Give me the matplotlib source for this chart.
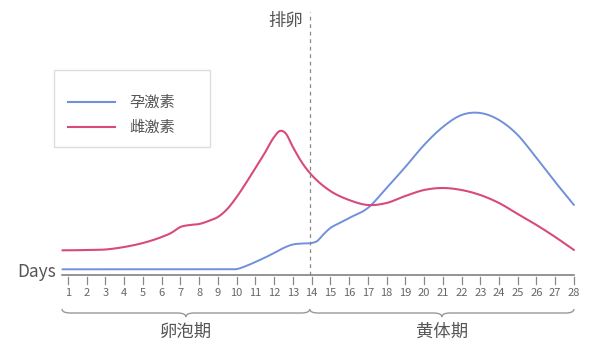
import numpy as np
import matplotlib.pyplot as plt
from matplotlib.path import Path
from matplotlib.patches import PathPatch, Rectangle

plt.rcParams['font.family'] = ['Noto Sans CJK SC', 'DejaVu Sans']

# hormone levels (arbitrary units)
days_prog = [0.7, 2, 4, 6, 8, 9.5, 10, 10.5, 11, 12, 12.5, 13, 13.5, 14, 14.3, 14.6, 15,
             15.5, 16, 17, 18, 19, 20, 21, 22, 23, 24, 25, 26, 27, 28]
prog = [5.7, 5.7, 5.7, 5.7, 5.7, 5.7, 5.9, 9, 13, 22, 27, 30.5, 31.5, 32, 34, 40, 47,
        52, 57, 67, 87, 108, 130, 148, 160, 162, 155, 140, 117, 93, 70]

days_estr = [0.7, 1, 2, 3, 4, 5, 6, 6.5, 7, 7.5, 8, 8.5, 9, 9.5, 10, 10.5, 11, 11.5,
             12, 12.3, 12.6, 13, 13.5, 14, 14.5, 15, 16, 17, 18, 19, 20, 21, 22,
             23, 24, 25, 26, 27, 28]
estr = [24.7, 24.7, 25, 25.5, 28, 32, 38, 42, 48, 50, 51, 54, 58, 66, 78, 92, 107, 122,
        138, 144, 142, 128, 112, 100, 91, 84, 75, 70, 72, 79, 85, 87, 85,
        80, 72, 61, 50, 38, 25]

tick_days = list(range(1, 29))
ovulation = 13.9
phases = [('卵泡期', 0.68, ovulation), ('黄体期', ovulation, 28)]
labels = ['孕激素', '雌激素']
colors = ['#7090dc', '#d84a7e']
grey = '#666666'


def smooth(x, y, n=12):
    # cubic hermite curve through the read points, only for drawing
    x = np.asarray(x, float)
    y = np.asarray(y, float)
    m = np.gradient(y, x)
    xs, ys = [], []
    t = np.linspace(0, 1, n, endpoint=False)
    for i in range(len(x) - 1):
        h = x[i + 1] - x[i]
        h00 = 2 * t**3 - 3 * t**2 + 1
        h10 = t**3 - 2 * t**2 + t
        h01 = -2 * t**3 + 3 * t**2
        h11 = t**3 - t**2
        xs.extend(x[i] + h * t)
        ys.extend(h00 * y[i] + h10 * h * m[i] + h01 * y[i + 1] + h11 * h * m[i + 1])
    xs.append(x[-1])
    ys.append(y[-1])
    return xs, ys


fig = plt.figure(figsize=(6, 3.51), dpi=100)
ax = fig.add_axes([0, 0, 1, 1])
ax.set_xlim(-2.628, 29.389)
ax.set_ylim(-76, 275)
ax.axis('off')

ax.plot(*smooth(days_prog, prog), color=colors[0], lw=1.4, solid_capstyle='round')
ax.plot(*smooth(days_estr, estr), color=colors[1], lw=1.5, solid_capstyle='round')

# x axis
ax.plot([0.68, 28], [0, 0], color='#777777', lw=1.1)
for d in tick_days:
    ax.plot([d, d], [-2, -9], color='#888888', lw=0.9)
    ax.text(d, -18, str(d), ha='center', va='center', fontsize=8, color=grey)
ax.text(0.35, 3, 'Days', ha='right', va='center', fontsize=12.5, color='#555555')

# ovulation
ax.plot([ovulation, ovulation], [0, 263], color='#888888', lw=0.9, ls=(0, (3, 3)))
ax.text(ovulation - 0.35, 254, '排卵', ha='right', va='center', fontsize=12.5, color='#555555')

# braces
def brace(x0, x1, top=-34, mid=-38, tip=-42, r=0.45):
    xc = (x0 + x1) / 2
    verts = [(x0, top), (x0, mid), (x0 + r, mid),
             (xc - r, mid), (xc, mid), (xc, tip),
             (xc, mid), (xc + r, mid),
             (x1 - r, mid), (x1, mid), (x1, top)]
    codes = [Path.MOVETO, Path.CURVE3, Path.CURVE3,
             Path.LINETO, Path.CURVE3, Path.CURVE3,
             Path.CURVE3, Path.CURVE3,
             Path.LINETO, Path.CURVE3, Path.CURVE3]
    ax.add_patch(PathPatch(Path(verts, codes), fill=False, edgecolor='#999999', lw=1.0))
    return xc

for name, x0, x1 in phases:
    xc = brace(x0, x1)
    ax.text(xc, -57, name, ha='center', va='center', fontsize=12.5, color='#555555')

# legend box
ax.add_patch(Rectangle((0.25, 128), 8.33, 77, fill=False, edgecolor='#dddddd', lw=1.0))
for i, (lab, c) in enumerate(zip(labels, colors)):
    y = 173 - 25 * i
    ax.plot([1.0, 3.5], [y, y], color=c, lw=1.5)
    ax.text(4.26, y, lab, ha='left', va='center', fontsize=11, color='#555555')

fig.savefig('out.png', dpi=100, facecolor='white')
